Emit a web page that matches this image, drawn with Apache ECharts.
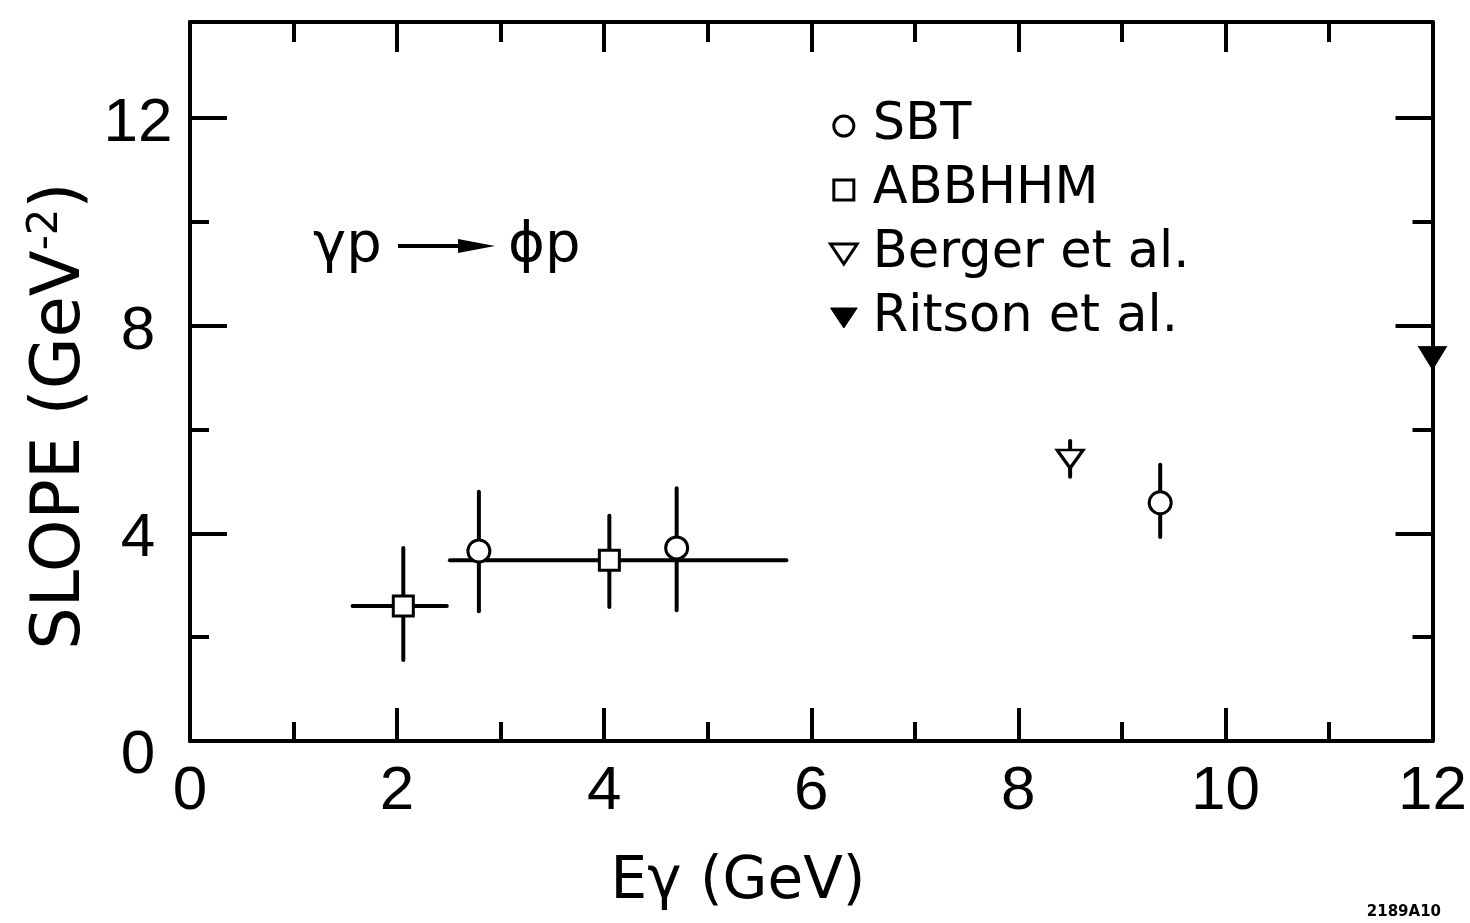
<!DOCTYPE html>
<html>
<head>
<meta charset="utf-8">
<script src="https://cdn.jsdelivr.net/npm/echarts@6/dist/echarts.min.js"></script>
<style>
html,body{margin:0;padding:0;background:#fff;}
#chart{width:1470px;height:923px;}
</style>
</head>
<body>
<div id="chart"></div>
<script>
// ---- data ----
const xTicksMajor = [0, 2, 4, 6, 8, 10, 12];
const yTickLabels = [0, 4, 8, 12];

// SBT (open circles)
const sbtX  = [2.79, 4.70, 9.37];
const sbtY  = [3.66, 3.72, 4.59];
const sbtLo = [2.50, 2.52, 3.93];
const sbtHi = [4.80, 4.87, 5.32];

// ABBHHM (open squares), with horizontal energy bins
const abbX   = [2.06, 4.05];
const abbY   = [2.60, 3.48];
const abbXLo = [1.57, 2.51];
const abbXHi = [2.48, 5.76];
const abbLo  = [1.56, 2.58];
const abbHi  = [3.72, 4.34];

// Berger et al. (open down triangle)
const bergerX  = [8.50];
const bergerY  = [5.43];
const bergerLo = [5.09];
const bergerHi = [5.78];

// Ritson et al. (filled down triangle)
const ritsonX = [12.0];
const ritsonY = [7.38];

const seriesNames = ['SBT', 'ABBHHM', 'Berger et al.', 'Ritson et al.'];
// -----------------------------------

const LABEL_FONT = "'Liberation Sans', sans-serif";
const TEXT_FONT = "'DejaVu Sans', sans-serif";
const TRI = 'path://M0,0L12,0L6,9Z';
const SQ = 'path://M0,0H10V10H0Z';

const pts = (xs, ys) => xs.map((x, i) => [x, ys[i]]);

// error bar rows: [x, y, xlo, xhi, ylo, yhi]
const errRows = [];
sbtX.forEach((x, i) => errRows.push([x, sbtY[i], x, x, sbtLo[i], sbtHi[i]]));
abbX.forEach((x, i) => errRows.push([x, abbY[i], abbXLo[i], abbXHi[i], abbLo[i], abbHi[i]]));
bergerX.forEach((x, i) => errRows.push([x, bergerY[i], x, x, bergerLo[i], bergerHi[i]]));

const lineStyle = {color: '#000', width: 4};
const tickStyle = {color: '#000', width: 4};

const chart = echarts.init(document.getElementById('chart'), null, {renderer: 'canvas'});

const option = {
  backgroundColor: '#fff',
  animation: false,
  grid: {left: 190, right: 35, top: 22, bottom: 182, containLabel: false},
  legend: {
    orient: 'vertical',
    left: 829,
    top: 94,
    padding: 0,
    itemWidth: 48,
    itemHeight: 20,
    itemGap: 0,
    selectedMode: false,
    textStyle: {fontFamily: TEXT_FONT, fontSize: 51, lineHeight: 64, color: '#000'},
    data: [
      {name: seriesNames[0], icon: 'circle', itemStyle: {color: '#fff', borderColor: '#000', borderWidth: 3}},
      {name: seriesNames[1], icon: SQ, itemStyle: {color: '#fff', borderColor: '#000', borderWidth: 3}},
      {name: seriesNames[2], icon: TRI, itemStyle: {color: '#fff', borderColor: '#000', borderWidth: 3}},
      {name: seriesNames[3], icon: TRI, itemStyle: {color: '#000', borderColor: '#000', borderWidth: 1}}
    ]
  },
  xAxis: [
    {
      type: 'value', position: 'bottom', min: 0, max: 12, interval: 2,
      axisLine: {onZero: false, lineStyle: lineStyle},
      axisTick: {inside: true, length: 33, lineStyle: tickStyle},
      minorTick: {show: true, splitNumber: 2, length: 19, lineStyle: tickStyle},
      axisLabel: {
        fontFamily: LABEL_FONT, fontSize: 62, color: '#000', margin: 20,
        formatter: v => (xTicksMajor.indexOf(v) >= 0 ? String(v) : '')
      },
      splitLine: {show: false}, minorSplitLine: {show: false}
    },
    {
      type: 'value', position: 'top', min: 0, max: 12, interval: 2,
      axisLine: {onZero: false, lineStyle: lineStyle},
      axisTick: {inside: true, length: 30, lineStyle: tickStyle},
      minorTick: {show: true, splitNumber: 2, length: 20, lineStyle: tickStyle},
      axisLabel: {show: false},
      splitLine: {show: false}, minorSplitLine: {show: false}
    }
  ],
  yAxis: [
    {
      type: 'value', position: 'left', min: 0, max: 13.85, interval: 4,
      axisLine: {onZero: false, lineStyle: lineStyle},
      axisTick: {inside: true, length: 37, lineStyle: tickStyle},
      axisLabel: {
        align: 'center', margin: 52, color: '#000',
        fontFamily: LABEL_FONT, fontSize: 62,
        formatter: v => {
          if (yTickLabels.indexOf(v) < 0) return '';
          return v === 0 ? '{z|0}' : '{a|' + v + '}';
        },
        rich: {
          a: {fontFamily: LABEL_FONT, fontSize: 62, color: '#000', padding: [12, 0, 0, 0]},
          z: {fontFamily: LABEL_FONT, fontSize: 62, color: '#000', padding: [30, 0, 0, 0]}
        }
      },
      splitLine: {show: false}
    },
    {
      type: 'value', position: 'left', min: 0, max: 13.85, interval: 2,
      axisLine: {show: false, onZero: false},
      axisTick: {inside: true, length: 19, lineStyle: tickStyle},
      axisLabel: {show: false},
      splitLine: {show: false}
    },
    {
      type: 'value', position: 'right', min: 0, max: 13.85, interval: 4,
      axisLine: {onZero: false, lineStyle: lineStyle},
      axisTick: {inside: true, length: 37, lineStyle: tickStyle},
      axisLabel: {show: false},
      splitLine: {show: false}
    },
    {
      type: 'value', position: 'right', min: 0, max: 13.85, interval: 2,
      axisLine: {show: false, onZero: false},
      axisTick: {inside: true, length: 20, lineStyle: tickStyle},
      axisLabel: {show: false},
      splitLine: {show: false}
    }
  ],
  graphic: [
    {
      type: 'text', x: 62, y: 416, rotation: Math.PI / 2,
      style: {
        text: 'SLOPE (GeV{sup|-2})',
        fontFamily: TEXT_FONT, fontSize: 67, fill: '#000',
        textAlign: 'center', textVerticalAlign: 'middle',
        rich: {sup: {fontFamily: TEXT_FONT, fontSize: 42, fill: '#000', verticalAlign: 'top', padding: [0, 0, 32, 0]}}
      }
    },
    {
      type: 'text', x: 738, y: 883,
      style: {text: 'E\u03b3 (GeV)', fontFamily: TEXT_FONT, fontSize: 58, fill: '#000', textAlign: 'center', textVerticalAlign: 'middle'}
    },
    {
      type: 'text', x: 313, y: 246,
      style: {text: '\u03b3p', fontFamily: TEXT_FONT, fontSize: 56, fill: '#000', textAlign: 'left', textVerticalAlign: 'middle'}
    },
    {
      type: 'line', shape: {x1: 398, y1: 246, x2: 470, y2: 246},
      style: {stroke: '#000', lineWidth: 4}
    },
    {
      type: 'polygon', shape: {points: [[458, 239], [495, 246], [458, 253]]},
      style: {fill: '#000'}
    },
    {
      type: 'text', x: 508, y: 246,
      style: {text: '\u03d5p', fontFamily: TEXT_FONT, fontSize: 56, fill: '#000', textAlign: 'left', textVerticalAlign: 'middle'}
    },
    {
      type: 'text', x: 1441, y: 912,
      style: {text: '2189A10', fontFamily: "'DejaVu Sans', sans-serif", fontWeight: 'bold', fontSize: 15, fill: '#000', textAlign: 'right', textVerticalAlign: 'middle'}
    }
  ],
  series: [
    {
      type: 'custom',
      name: 'errors',
      z: 1,
      clip: false,
      data: errRows,
      encode: {x: 0, y: 1},
      renderItem: function (params, api) {
        const x = api.value(0), y = api.value(1);
        const xl = api.value(2), xh = api.value(3);
        const yl = api.value(4), yh = api.value(5);
        const st = {stroke: '#000', lineWidth: 4, lineCap: 'round'};
        const children = [];
        const a = api.coord([x, yl]), b = api.coord([x, yh]);
        children.push({type: 'line', shape: {x1: a[0], y1: a[1], x2: b[0], y2: b[1]}, style: st});
        if (xh > xl) {
          const c = api.coord([xl, y]), d = api.coord([xh, y]);
          children.push({type: 'line', shape: {x1: c[0], y1: c[1], x2: d[0], y2: d[1]}, style: st});
        }
        return {type: 'group', children: children};
      }
    },
    {
      type: 'scatter', name: seriesNames[0], z: 3, clip: false,
      symbol: 'circle', symbolSize: 22,
      itemStyle: {color: '#fff', borderColor: '#000', borderWidth: 3, opacity: 1},
      data: pts(sbtX, sbtY)
    },
    {
      type: 'scatter', name: seriesNames[1], z: 3, clip: false,
      symbol: 'rect', symbolSize: 20,
      itemStyle: {color: '#fff', borderColor: '#000', borderWidth: 3, opacity: 1},
      data: pts(abbX, abbY)
    },
    {
      type: 'scatter', name: seriesNames[2], z: 3, clip: false,
      symbol: TRI, symbolSize: [26, 18], symbolKeepAspect: false,
      itemStyle: {color: '#fff', borderColor: '#000', borderWidth: 3, opacity: 1},
      data: pts(bergerX, bergerY)
    },
    {
      type: 'scatter', name: seriesNames[3], z: 3, clip: false,
      symbol: TRI, symbolSize: [28, 23], symbolKeepAspect: false,
      itemStyle: {color: '#000', borderColor: '#000', borderWidth: 1, opacity: 1},
      data: pts(ritsonX, ritsonY)
    }
  ]
};

chart.setOption(option);
</script>
</body>
</html>
